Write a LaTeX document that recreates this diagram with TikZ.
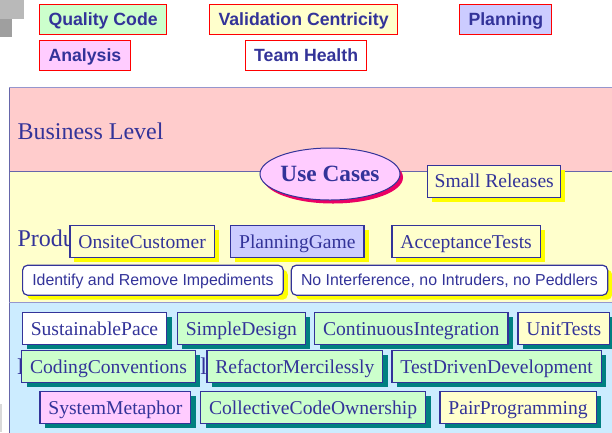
\documentclass[tikz,border=0pt]{standalone}
\usepackage{fontspec}
\setmainfont{Liberation Serif}
\setsansfont{Liberation Sans}
\usepackage{tikz}
\usetikzlibrary{shapes.geometric}
\usetikzlibrary{shadows,positioning}
\definecolor{ink}{RGB}{51,51,153}
\definecolor{bandline}{RGB}{102,102,170}
\definecolor{bandtop}{RGB}{150,150,205}
\definecolor{bizfill}{RGB}{255,204,204}
\definecolor{prodfill}{RGB}{255,255,204}
\definecolor{implfill}{RGB}{204,236,255}
\definecolor{qgreen}{RGB}{204,255,204}
\definecolor{qyellow}{RGB}{255,255,204}
\definecolor{qblue}{RGB}{204,204,255}
\definecolor{qpink}{RGB}{255,204,255}
\definecolor{tealshade}{RGB}{0,128,128}
\definecolor{yellowshade}{RGB}{255,255,0}
\definecolor{pinkshade}{RGB}{235,0,100}

\begin{document}
\begin{tikzpicture}[x=1pt,y=-1pt,
    legend/.style={draw=red, line width=1pt, text=ink, anchor=west,
        font=\sffamily\bfseries\fontsize{17.7}{20}\selectfont,
        inner xsep=8.7pt, minimum height=30pt, text height=12.7pt, text depth=0pt},
    practice/.style={draw=ink, line width=1.2pt, text=ink, anchor=west,
        font=\fontsize{19.6}{22}\selectfont,
        inner xsep=8.5pt, minimum height=32pt, text height=13pt, text depth=0pt},
    prod/.style={practice, drop shadow={fill=yellowshade, opacity=1, shadow xshift=4.5pt, shadow yshift=-4.5pt}},
    impl/.style={practice, drop shadow={fill=tealshade, opacity=1, shadow xshift=5pt, shadow yshift=-4.5pt}},
    health/.style={draw=ink, line width=1.2pt, rounded corners=5pt, fill=white, text=ink, anchor=west,
        font=\sffamily\fontsize{15.9}{18}\selectfont,
        inner xsep=9.7pt, minimum height=30pt, text height=11.4pt, text depth=0pt,
        drop shadow={fill=yellowshade, opacity=1, shadow xshift=4.5pt, shadow yshift=-4.5pt}},
    level/.style={text=ink, font=\fontsize{24}{28}\selectfont, anchor=base west, inner sep=0pt}]

    \useasboundingbox (0,0) rectangle (612,432);

    % bits of grey in the corners
    \fill[gray!55] (0,0) rectangle (24,19);
    \fill[gray!75] (0,19) rectangle (12,37);
    \fill[gray!30] (0,404) rectangle (2,432);

    % the three levels
    \filldraw[fill=bizfill, draw=bandline, line width=1pt] (9,87.7) rectangle (640,171.3);
    \filldraw[fill=prodfill, draw=bandline, line width=1pt] (9,171.3) rectangle (640,302.7);
    \filldraw[fill=implfill, draw=bandline, line width=1pt] (9,302.7) rectangle (640,450);
    \draw[bandtop, line width=1.5pt] (9,87.7) -- (640,87.7);
    \draw[bandtop, line width=1.5pt] (9,302.7) -- (640,302.7);

    \node[level] (business) at (17.3,139) {Business Level};
    \node[level] (product) at (17.3,246) {Product Level};
    \node[level] (development) at (17,374) {Development Level};

    % legend
    \foreach \n/ \x/ \y/ \c/ \t in {quality/39.3/19.2/qgreen/Quality Code,
            validation/209.3/19.2/qyellow/Validation Centricity,
            planning/459.3/19.2/qblue/Planning,
            analysis/39.3/55/qpink/Analysis,
            team/245/55/white/Team Health}{
        \node[legend, fill=\c] (\n) at (\x,\y) {\t};
    }

    \node[ellipse, draw=ink, line width=1pt, fill=qpink, text=ink,
        minimum width=127pt, minimum height=52pt, inner sep=0pt,
        font=\bfseries\fontsize{23.3}{26}\selectfont,
        drop shadow={fill=pinkshade, opacity=1, shadow xshift=3pt, shadow yshift=-3.5pt}]
        (usecases) at (330,174) {Use Cases};
    \node[prod, fill=qyellow, inner xsep=7pt] (releases) at (427,181.3) {Small Releases};

    \foreach \n/ \x/ \c/ \t in {onsite/69.3/qyellow/OnsiteCustomer,
            game/230/qblue/PlanningGame,
            acceptance/391.3/qyellow/AcceptanceTests}{
        \node[prod, fill=\c] (\n) at (\x,241.5) {\t};
    }
    \node[health] (impediments) at (22,280.2) {Identify and Remove Impediments};
    \node[health] (interference) at (290.7,280.2) {No Interference, no Intruders, no Peddlers};

    \foreach \n/ \x/ \y/ \c/ \t in {pace/21.7/328.5/white/SustainablePace,
            simple/176.7/328.5/qgreen/SimpleDesign,
            integration/314/328.5/qgreen/ContinuousIntegration,
            unit/517.3/328.5/qyellow/UnitTests,
            conventions/21/366.5/qgreen/CodingConventions,
            refactor/206.3/366.5/qgreen/RefactorMercilessly,
            tdd/391.3/366.5/qgreen/TestDrivenDevelopment,
            metaphor/39.3/407.8/qpink/SystemMetaphor,
            ownership/200/407.8/qgreen/CollectiveCodeOwnership,
            pair/439.3/407.8/qyellow/PairProgramming}{
        \node[impl, fill=\c] (\n) at (\x,\y) {\t};
    }

\end{tikzpicture}
\end{document}
